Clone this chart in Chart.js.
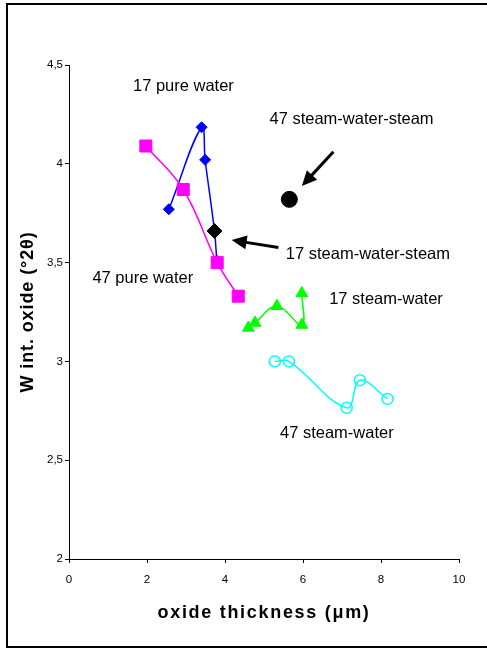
<!DOCTYPE html>
<html>
<head>
<meta charset="utf-8">
<script src="https://cdn.jsdelivr.net/npm/chart.js@4/dist/chart.umd.min.js"></script>
<style>
  html, body { margin: 0; padding: 0; background: #fff; overflow: hidden; }
  #wrap { position: relative; width: 487px; height: 649px; }
  #frame {
    position: absolute; left: 6px; top: 3px; width: 600px; height: 645px;
    box-sizing: border-box; border: 2px solid #000; border-right: none;
    pointer-events: none;
  }
  canvas { display: block; }
</style>
</head>
<body>
<div id="wrap">
  <canvas id="c" width="487" height="649"></canvas>
  <div id="frame"></div>
</div>
<script>
// Axis ticks
const xTickValues = [0, 2, 4, 6, 8, 10];
const yTickLabels = ['2', '2,5', '3', '3,5', '4', '4,5'];

// 17 pure water (µm, °2θ)
const pure17X = [2.56, 3.40, 3.49, 3.73, 3.79];
const pure17Y = [3.77, 4.185, 4.02, 3.66, 3.51];

// 47 pure water
const pure47X = [1.97, 2.93, 3.80, 4.34];
const pure47Y = [4.09, 3.87, 3.50, 3.33];

// 17 steam-water
const sw17X = [4.60, 4.77, 5.33, 5.97, 5.97];
const sw17Y = [3.17, 3.195, 3.28, 3.185, 3.345];

// 47 steam-water
const sw47X = [5.28, 5.64, 7.12, 7.46, 8.17];
const sw47Y = [3.00, 3.00, 2.765, 2.905, 2.81];

// 17 steam-water-steam
const sws17X = [3.73];
const sws17Y = [3.66];

// 47 steam-water-steam
const sws47X = [5.65];
const sws47Y = [3.82];

// Series captions written inside the plot (left edge, vertical middle, in data units)
const captions = [
  { text: '17 pure water',          x: 1.64, y: 4.39 },
  { text: '47 steam-water-steam',   x: 5.14, y: 4.225 },
  { text: '17 steam-water-steam',   x: 5.56, y: 3.542 },
  { text: '47 pure water',          x: 0.60, y: 3.42 },
  { text: '17 steam-water',         x: 6.67, y: 3.316 },
  { text: '47 steam-water',         x: 5.41, y: 2.636 }
];

// Pointer arrows (tail -> head, in data units)
const pointers = [
  { from: [6.78, 4.061], to: [5.97, 3.888] },
  { from: [5.37, 3.576], to: [4.17, 3.614] }
];

// Extra tracking for the bold axis titles
const titleSpacing = { x: '1.7px', y: '0.9px' };

const zip = (xs, ys) => xs.map((x, i) => ({ x: x, y: ys[i] }));

// Draws the axis titles with a little letter spacing
const titleSpacingPlugin = {
  id: 'titleSpacing',
  beforeDraw(chart) {
    Object.keys(titleSpacing).forEach(id => {
      const scale = chart.scales[id];
      if (!scale || scale._spacedTitle) return;
      const orig = scale.drawTitle;
      scale.drawTitle = function () {
        const c = this.ctx;
        const prev = c.letterSpacing;
        c.letterSpacing = titleSpacing[id];
        orig.call(this);
        c.letterSpacing = prev || '0px';
      };
      scale._spacedTitle = true;
    });
  }
};

const captionPlugin = {
  id: 'captions',
  afterDatasetsDraw(chart) {
    const ctx = chart.ctx;
    const xs = chart.scales.x, ys = chart.scales.y;
    ctx.save();
    ctx.strokeStyle = '#000';
    ctx.fillStyle = '#000';
    ctx.lineWidth = 3;
    ctx.lineCap = 'butt';
    pointers.forEach(p => {
      const x1 = xs.getPixelForValue(p.from[0]), y1 = ys.getPixelForValue(p.from[1]);
      const x2 = xs.getPixelForValue(p.to[0]),   y2 = ys.getPixelForValue(p.to[1]);
      const ang = Math.atan2(y2 - y1, x2 - x1);
      const headLen = 15, headHalf = 7;
      const bx = x2 - Math.cos(ang) * headLen, by = y2 - Math.sin(ang) * headLen;
      ctx.beginPath();
      ctx.moveTo(x1, y1);
      ctx.lineTo(bx + Math.cos(ang) * 2, by + Math.sin(ang) * 2);
      ctx.stroke();
      ctx.beginPath();
      ctx.moveTo(x2, y2);
      ctx.lineTo(bx - Math.sin(ang) * headHalf, by + Math.cos(ang) * headHalf);
      ctx.lineTo(bx + Math.sin(ang) * headHalf, by - Math.cos(ang) * headHalf);
      ctx.closePath();
      ctx.fill();
    });
    ctx.font = '16.5px "Liberation Sans", Arial, sans-serif';
    ctx.textAlign = 'left';
    ctx.textBaseline = 'middle';
    captions.forEach(c => {
      ctx.fillText(c.text, xs.getPixelForValue(c.x), ys.getPixelForValue(c.y));
    });
    ctx.restore();
  }
};

const lineDs = (label, xs, ys, color, style, radius, extra) => Object.assign({
  label: label,
  data: zip(xs, ys),
  showLine: true,
  tension: 0.4,
  borderColor: color,
  borderWidth: 1.5,
  pointStyle: style,
  pointRadius: radius,
  pointBackgroundColor: color,
  pointBorderColor: color,
  pointBorderWidth: 1
}, extra || {});

new Chart(document.getElementById('c'), {
  type: 'scatter',
  data: {
    datasets: [
      lineDs('17 steam-water-steam', sws17X, sws17Y, '#000000', 'rectRot', 7.5, { showLine: false, order: 0 }),
      lineDs('47 steam-water-steam', sws47X, sws47Y, '#000000', 'circle', 8, { showLine: false, order: 0 }),
      lineDs('47 pure water', pure47X, pure47Y, '#FF00FF', 'rect', 8.5, { order: 1 }),
      lineDs('17 pure water', pure17X, pure17Y, '#0000FF', 'rectRot', 5.5, { order: 2 }),
      lineDs('17 steam-water', sw17X, sw17Y, '#00FF00', 'triangle', 6.8, { order: 3 }),
      lineDs('47 steam-water', sw47X, sw47Y, '#00FFFF', 'circle', 5.5, {
        order: 4, pointBackgroundColor: 'rgba(0,0,0,0)', pointBorderWidth: 1.5
      })
    ]
  },
  options: {
    responsive: false,
    animation: false,
    devicePixelRatio: 1,
    layout: { padding: { top: 65, right: 28, bottom: 0, left: 0 } },
    plugins: { legend: { display: false }, tooltip: { enabled: false } },
    scales: {
      x: {
        type: 'linear', min: 0, max: 10,
        afterFit: s => { s.height = 90; },
        afterBuildTicks: s => { s.ticks = xTickValues.map(v => ({ value: v })); },
        grid: { drawOnChartArea: false, drawTicks: true, tickLength: 4, color: '#000', tickWidth: 1 },
        border: { display: true, color: '#000', width: 1 },
        ticks: { color: '#000', padding: 10, maxRotation: 0, font: { family: '"Liberation Sans", Arial, sans-serif', size: 11.5 } },
        title: {
          display: true, text: 'oxide thickness (μm)', color: '#000',
          font: { family: '"Liberation Sans", Arial, sans-serif', size: 18, weight: 'bold' },
          padding: { top: 0, bottom: 25 }
        }
      },
      y: {
        type: 'linear', min: 2, max: 4.5,
        afterFit: s => { s.width = 69; },
        ticks: {
          stepSize: 0.5, color: '#000', padding: 2,
          font: { family: '"Liberation Sans", Arial, sans-serif', size: 11.5 },
          callback: (v, i) => yTickLabels[i]
        },
        grid: { drawOnChartArea: false, drawTicks: true, tickLength: 4, color: '#000', tickWidth: 1 },
        border: { display: true, color: '#000', width: 1 },
        title: {
          display: true, text: 'W int. oxide (°2θ)', color: '#000',
          font: { family: '"Liberation Sans", Arial, sans-serif', size: 18, weight: 'bold' },
          padding: { top: 17, bottom: 0 }
        }
      }
    }
  },
  plugins: [titleSpacingPlugin, captionPlugin]
});
</script>
</body>
</html>
